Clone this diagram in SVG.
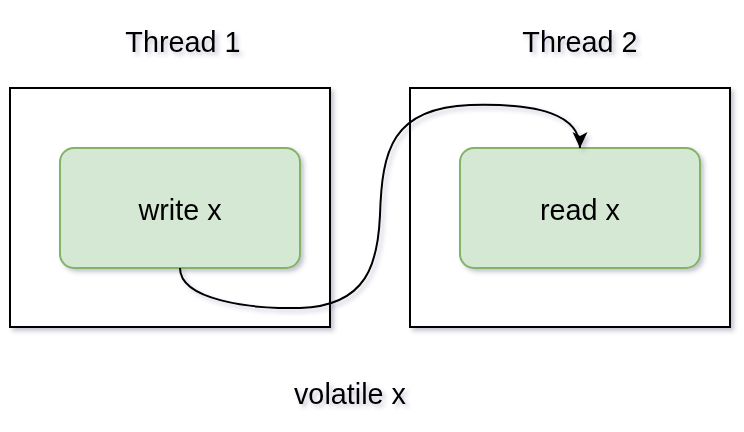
<svg xmlns="http://www.w3.org/2000/svg" width="744" height="432" viewBox="0 0 744 432">
  <style>
    .frame { fill: #ffffff; stroke: #000000; stroke-width: 2; }
    .task { fill: #d5e8d4; stroke: #82b366; stroke-width: 2; }
    .lbl { font-family: "Liberation Sans", Arial, sans-serif; font-size: 28.8px; fill: #000000; text-anchor: middle; }
    .edge { fill: none; stroke: #000000; stroke-width: 2; }
    .sh { filter: url(#shadow); }
  </style>
  <defs>
    <filter id="shadow" x="-20%" y="-20%" width="140%" height="140%">
      <feDropShadow dx="3" dy="3" stdDeviation="2" flood-color="#3c4070" flood-opacity="0.3"/>
    </filter>
    <marker id="arrow" markerUnits="userSpaceOnUse" viewBox="0 0 16 16" refX="16" refY="8" markerWidth="16" markerHeight="16" orient="auto">
      <path d="M0,0.5 L16,8 L0,15.5 L4,8 Z" fill="#000000"/>
    </marker>
  </defs>
  <rect width="744" height="432" fill="#ffffff"/>

  <g id="thread1" class="sh">
    <rect class="frame" x="10" y="88" width="320" height="239"/>
    <text class="lbl" x="183" y="52">Thread 1</text>
  </g>
  <g id="thread2" class="sh">
    <rect class="frame" x="410" y="88" width="320" height="239"/>
    <text class="lbl" x="580" y="52">Thread 2</text>
  </g>
  <g id="write" class="sh">
    <rect class="task" x="60" y="148" width="240" height="120" rx="14" ry="14"/>
    <text class="lbl" x="180" y="220">write x</text>
  </g>
  <g id="read" class="sh">
    <rect class="task" x="460" y="148" width="240" height="120" rx="14" ry="14"/>
    <text class="lbl" x="580" y="220">read x</text>
  </g>
  <g id="volatile" class="sh">
    <text class="lbl" x="350" y="404">volatile x</text>
  </g>

  <g id="connectors" class="sh">
    <path class="edge" d="M180,268 C180,300 250,309 300,308 C368,306 378,262 380,215 C382,150 392,108 470,105 C540,103 580,115 580,148" marker-end="url(#arrow)"/>
  </g>
</svg>
